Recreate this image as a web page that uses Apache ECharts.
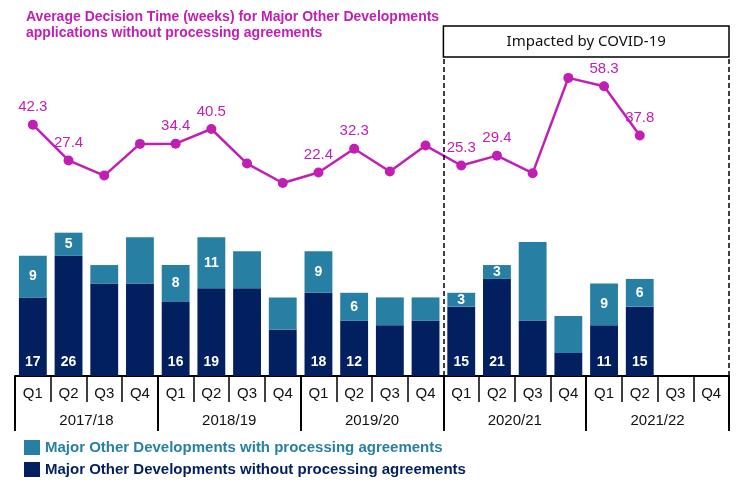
<!DOCTYPE html>
<html>
<head>
<meta charset="UTF-8">
<title>Major Other Developments - decision time</title>
<script src="https://cdn.jsdelivr.net/npm/echarts@6/dist/echarts.min.js"></script>
<style>
    html, body { margin: 0; padding: 0; background: #fff; }
    #main { width: 750px; height: 492px; }
</style>
</head>
<body>
<div id="main"></div>
<script>
var years = ['2017/18', '2018/19', '2019/20', '2020/21', '2021/22'];
var quarters = ['Q1', 'Q2', 'Q3', 'Q4'];
// applications per quarter
var withPA    = [9, 5, 4, 10,   8, 11, 8, 7,    9, 6, 6, 5,     3, 3, 17, 8,    9, 6, null, null];
var withoutPA = [17, 26, 20, 20, 16, 19, 19, 10, 18, 12, 11, 12, 15, 21, 12, 5, 11, 15, null, null];
// average decision time (weeks), without processing agreements
var avgWeeks  = [42.3, 27.4, 21.1, 34.3, 34.4, 40.5, 26.1, 18.0, 22.4, 32.3, 22.8, 33.6,
                 25.3, 29.4, 22.1, 61.8, 58.3, 37.8, null, null];
var covidFrom = 12, covidTo = 20;   // quarter positions of the COVID box

var FONT = '"Liberation Sans", Arial, sans-serif';
var MAGENTA = '#C21EB4', TEAL = '#2780A4', NAVY = '#021F5F';

var cats = [];
years.forEach(function (y) { quarters.forEach(function (q) { cats.push(y + ' ' + q); }); });

// only Q1 and Q2 carry labels in the original
function labelled(i) { return i % 4 < 2; }

function barData(arr) {
    return arr.map(function (v, i) {
        return { value: v, label: { show: labelled(i) && v != null } };
    });
}

var chart = echarts.init(document.getElementById('main'));
var option = {
    animation: false,
    textStyle: { fontFamily: FONT },
    title: {
        text: 'Average Decision Time (weeks) for Major Other Developments\napplications without processing agreements',
        left: 21, top: 4,
        textStyle: { fontFamily: FONT, fontSize: 14, fontWeight: 'bold', color: MAGENTA, lineHeight: 16 }
    },
    legend: {
        orient: 'vertical', left: 19, top: 435,
        itemWidth: 16, itemHeight: 15, itemGap: 7, icon: 'rect',
        textStyle: { fontFamily: FONT, fontSize: 15, fontWeight: 'bold' },
        data: [
            { name: 'Major Other Developments with processing agreements', textStyle: { color: TEAL } },
            { name: 'Major Other Developments without processing agreements', textStyle: { color: NAVY } }
        ]
    },
    grid: { left: 15, right: 21, top: 57, bottom: 116 },
    xAxis: [{
        type: 'category', data: cats, position: 'bottom',
        axisLine: { show: true, onZero: false, lineStyle: { color: '#000', width: 2 } },
        axisTick: { show: true, length: 26, interval: 0, lineStyle: { color: '#000', width: 1.5 } },
        axisLabel: { interval: 0, margin: 10, fontSize: 15, color: '#111', fontFamily: FONT,
            formatter: function (v) { return v.split(' ')[1]; } }
    }, {
        type: 'category', data: years, position: 'bottom',
        axisLine: { show: false, onZero: false },
        axisTick: { show: true, length: 55, interval: 0, lineStyle: { color: '#000', width: 2 } },
        axisLabel: { interval: 0, margin: 37, fontSize: 15, color: '#111', fontFamily: FONT }
    }, {
        type: 'value', min: 0, max: 20, show: false, axisLine: { onZero: false }
    }],
    yAxis: [
        { type: 'value', min: 0, max: 69, show: false, splitLine: { show: false } },
        { type: 'value', min: -62.4, max: 70.5, show: false, splitLine: { show: false } }
    ],
    series: [{
        name: 'Major Other Developments without processing agreements',
        type: 'bar', stack: 'apps', barCategoryGap: '22%',
        itemStyle: { color: NAVY },
        label: { position: 'insideBottom', distance: 7, color: '#fff', fontSize: 14, fontWeight: 'bold', fontFamily: FONT },
        data: barData(withoutPA)
    }, {
        name: 'Major Other Developments with processing agreements',
        type: 'bar', stack: 'apps',
        itemStyle: { color: TEAL },
        label: { position: 'inside', color: '#fff', fontSize: 14, fontWeight: 'bold', fontFamily: FONT },
        data: barData(withPA)
    }, {
        name: 'Average decision time',
        type: 'line', yAxisIndex: 1,
        symbol: 'circle', symbolSize: 10,
        itemStyle: { color: MAGENTA },
        lineStyle: { color: MAGENTA, width: 2.5 },
        label: { position: 'top', distance: 5, color: MAGENTA, fontSize: 15, fontFamily: FONT },
        data: avgWeeks.map(function (v, i) {
            return { value: v, label: { show: labelled(i) && v != null } };
        })
    }, {
        // carrier for the COVID dashed lines, on the hidden value axis
        name: 'covid', type: 'line', xAxisIndex: 2, yAxisIndex: 0,
        symbol: 'none', lineStyle: { opacity: 0 }, silent: true,
        data: [[covidFrom, 0], [covidTo, 0]],
        markLine: {
            silent: true, symbol: 'none', label: { show: false },
            lineStyle: { color: '#000', type: [5, 3], width: 1.5 },
            data: [{ xAxis: covidFrom }, { xAxis: covidTo }]
        }
    }]
};
chart.setOption(option);

// box over the COVID period
var x1 = chart.convertToPixel({ xAxisIndex: 2 }, covidFrom);
var x2 = chart.convertToPixel({ xAxisIndex: 2 }, covidTo);
chart.setOption({
    graphic: [{
        type: 'rect',
        shape: { x: x1, y: 26, width: x2 - x1, height: 31 },
        style: { fill: '#fff', stroke: '#000', lineWidth: 1.5 }
    }, {
        type: 'text',
        x: (x1 + x2) / 2, y: 42,
        style: { text: 'Impacted by COVID-19', align: 'center', verticalAlign: 'middle',
            font: '15px "Noto Sans", sans-serif', fill: '#111' }
    }]
});
</script>
</body>
</html>
